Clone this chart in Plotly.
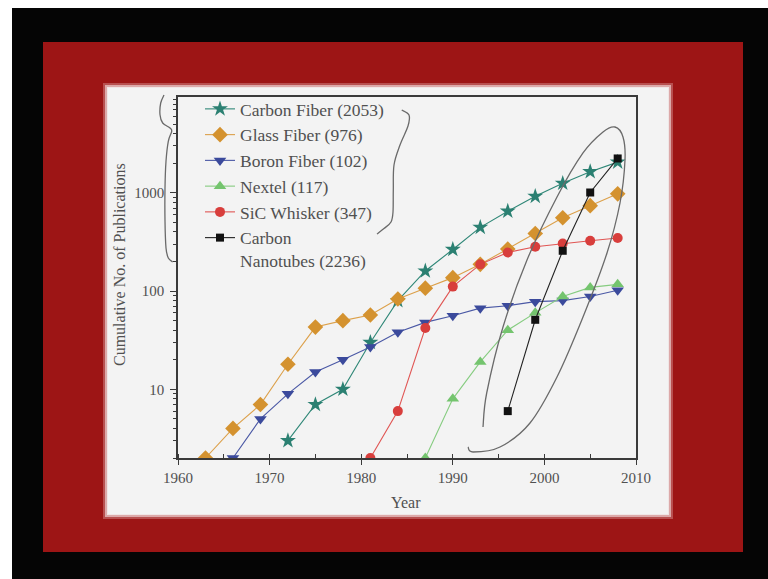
import math
import plotly.graph_objects as go

# ---------------- data ----------------
series_names = ["Carbon Fiber (2053)", "Glass Fiber (976)", "Boron Fiber (102)",
                "Nextel (117)", "SiC Whisker (347)", "Carbon<br>Nanotubes (2236)"]

years_carbon = [1972, 1975, 1978, 1981, 1984, 1987, 1990, 1993, 1996, 1999, 2002, 2005, 2008]
vals_carbon = [3, 7, 10, 30, 80, 160, 265, 445, 650, 920, 1250, 1640, 2053]

years_glass = [1963, 1966, 1969, 1972, 1975, 1978, 1981, 1984, 1987, 1990, 1993, 1996, 1999, 2002, 2005, 2008]
vals_glass = [2, 4, 7, 18, 43, 50, 57, 83, 107, 137, 187, 268, 385, 557, 740, 976]

years_boron = [1966, 1969, 1972, 1975, 1978, 1981, 1984, 1987, 1990, 1993, 1996, 1999, 2002, 2005, 2008]
vals_boron = [2, 5, 9, 15, 20, 27, 38, 48, 56, 67, 71, 78, 80, 88, 102]

years_nextel = [1987, 1990, 1993, 1996, 1999, 2002, 2005, 2008]
vals_nextel = [2, 8, 19, 40, 60, 88, 109, 117]

years_sic = [1981, 1984, 1987, 1990, 1993, 1996, 1999, 2002, 2005, 2008]
vals_sic = [2, 6, 42, 111, 187, 247, 283, 305, 325, 347]

years_cnt = [1996, 1999, 2002, 2005, 2008]
vals_cnt = [6, 51, 257, 1007, 2236]

x_tick_vals = [1960, 1970, 1980, 1990, 2000, 2010]
y_tick_vals = [10, 100, 1000]
y_minor_vals = [m * 10 ** e for e in range(0, 4) for m in range(2, 10)]

# ---------------- styling ----------------
FONT = "Liberation Serif"
TXT = "#505050"
AX = "#3a3a3a"
W, H = 768, 579
L, R, T, B = 178, 132, 97, 121
PW, PH = W - L - R, H - T - B


def px(X):
    return (X - L) / PW


def py(Y):
    return (H - B - Y) / PH


def smooth_path(pts):
    P = [(px(x), py(y)) for x, y in pts]
    d = f"M{P[0][0]:.5f},{P[0][1]:.5f}"
    for i in range(len(P) - 1):
        p0 = P[i - 1] if i > 0 else P[i]
        p1, p2 = P[i], P[i + 1]
        p3 = P[i + 2] if i + 2 < len(P) else P[i + 1]
        c1 = (p1[0] + (p2[0] - p0[0]) / 6, p1[1] + (p2[1] - p0[1]) / 6)
        c2 = (p2[0] - (p3[0] - p1[0]) / 6, p2[1] - (p3[1] - p1[1]) / 6)
        d += (f" C{c1[0]:.5f},{c1[1]:.5f} {c2[0]:.5f},{c2[1]:.5f}"
              f" {p2[0]:.5f},{p2[1]:.5f}")
    return d


def rect(x0, y0, x1, y1, color):
    return dict(type="rect", xref="paper", yref="paper",
                x0=px(x0), x1=px(x1), y0=py(y1), y1=py(y0),
                fillcolor=color, line=dict(width=0), layer="below")


specs = [
    (years_carbon, vals_carbon, "star", "#2b8072", "#2f8777", 12),
    (years_glass, vals_glass, "diamond", "#d4922f", "#dca04a", 12),
    (years_boron, vals_boron, "triangle-down", "#3b4a9c", "#4a58a5", 11),
    (years_nextel, vals_nextel, "triangle-up", "#74c46e", "#86cc80", 11),
    (years_sic, vals_sic, "circle", "#d83e3c", "#e05553", 10),
    (years_cnt, vals_cnt, "square", "#111111", "#222222", 8),
]

fig = go.Figure()
for i, (xs, ys, sym, mc, lc, sz) in enumerate(specs):
    fig.add_trace(go.Scatter(
        x=xs, y=ys, mode="lines+markers", name=series_names[i],
        line=dict(color=lc, width=1.1),
        marker=dict(symbol=sym, size=sz, color=mc, line=dict(width=0)),
    ))

shapes = [
    rect(12, 8, 768, 579, "#050505"),
    rect(43, 42, 743, 552, "#9d1515"),
    rect(103, 83, 673, 519, "#b85050"),
    rect(105, 85, 671, 517, "#dca9a9"),
    rect(107, 87, 669, 515, "#efe6e6"),
    rect(108, 88, 668, 514, "#f3f3f3"),
]

ellipse_pts = [(483, 427), (486.7, 393), (503, 327), (527, 260), (557, 197), (583, 153),
               (603, 132), (615, 127), (623, 137), (625, 160), (620, 203), (607, 253),
               (583, 317), (557, 377), (530, 423), (500, 447), (473, 452), (468, 447)]
left_brace = [(164, 95), (160.7, 103), (160, 114.7), (162.7, 123), (170, 128), (171.7, 131.3),
              (168.3, 141.3), (166, 161.3), (165, 188), (165, 221.3), (166, 248),
              (168.3, 258), (172.7, 262)]
right_brace = [(401.7, 110), (409, 115), (408, 126), (400, 145), (394, 165), (393.3, 190),
               (393, 212), (391, 222), (384, 228.5), (377, 234)]
for pts in (ellipse_pts, left_brace, right_brace):
    shapes.append(dict(type="path", xref="paper", yref="paper", path=smooth_path(pts),
                       line=dict(color="#6a6a6a", width=1.3), layer="above"))

annotations = [
    dict(text="Cumulative No. of Publications", xref="paper", yref="paper",
         x=px(119), y=py(265), xanchor="center", yanchor="middle",
         textangle=-90, showarrow=False,
         font=dict(family=FONT, size=16, color=TXT)),
    dict(text="Year", xref="paper", yref="paper", x=px(406), y=py(502),
         xanchor="center", yanchor="middle",
         showarrow=False, font=dict(family=FONT, size=16, color=TXT)),
]

fig.update_layout(
    width=W, height=H,
    margin=dict(l=L, r=R, t=T, b=B, pad=0),
    paper_bgcolor="#ffffff",
    plot_bgcolor="rgba(0,0,0,0)",
    font=dict(family=FONT, color=TXT),
    shapes=shapes,
    annotations=annotations,
    showlegend=True,
    legend=dict(x=px(200), y=py(91), xanchor="left", yanchor="top",
                bgcolor="rgba(0,0,0,0)", borderwidth=0,
                font=dict(family=FONT, size=17.5, color=TXT),
                tracegroupgap=0, valign="top", itemwidth=30),
    xaxis=dict(range=[1960, 2010], tickvals=x_tick_vals, showgrid=False, zeroline=False,
               showline=True, linecolor=AX, linewidth=1.5, mirror=True,
               ticks="outside", ticklen=5, tickcolor=AX, tickwidth=1.2,
               minor=dict(ticks="inside", dtick=5, tick0=1960, ticklen=4, tickcolor=AX),
               tickfont=dict(family=FONT, size=15, color=TXT)),
    yaxis=dict(type="log", range=[math.log10(2), 3.975], tickvals=y_tick_vals,
               ticktext=["10", "100", "1000"], showgrid=False, zeroline=False,
               showline=True, linecolor=AX, linewidth=1.5, mirror=True,
               ticks="outside", ticklen=6, tickcolor=AX, tickwidth=1.2,
               ticklabelstandoff=3,
               minor=dict(ticks="outside", tickvals=y_minor_vals, ticklen=3, tickcolor=AX),
               tickfont=dict(family=FONT, size=15, color=TXT)),
)

fig.write_html("out.html")
